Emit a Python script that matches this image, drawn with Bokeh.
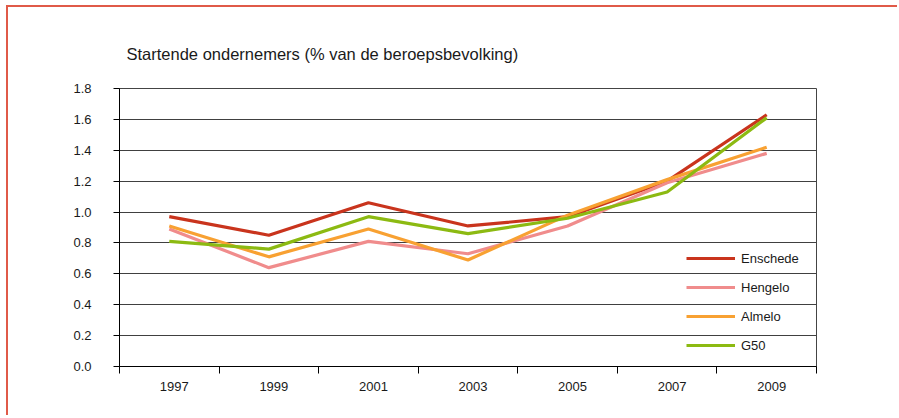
from bokeh.plotting import figure
from bokeh.models import FixedTicker, NumeralTickFormatter, Range1d, Legend, LegendItem, ColumnDataSource
from bokeh.embed import file_html
from bokeh.resources import INLINE

years = ["1997", "1999", "2001", "2003", "2005", "2007", "2009"]
enschede = [0.97, 0.85, 1.06, 0.91, 0.97, 1.20, 1.63]
hengelo = [0.89, 0.64, 0.81, 0.73, 0.91, 1.19, 1.38]
almelo = [0.91, 0.71, 0.89, 0.69, 0.98, 1.21, 1.42]
g50 = [0.81, 0.76, 0.97, 0.86, 0.96, 1.13, 1.61]
y_ticks = [0.0, 0.2, 0.4, 0.6, 0.8, 1.0, 1.2, 1.4, 1.6, 1.8]
title_text = "Startende ondernemers (% van de beroepsbevolking)"

series = [("Enschede", enschede, "#c9341d"),
          ("Hengelo", hengelo, "#f08c8c"),
          ("Almelo", almelo, "#f8a132"),
          ("G50", g50, "#8cba12")]

FONT = "Liberation Sans"
W, H = 891, 410

p = figure(width=W, height=H, output_backend="svg", toolbar_location=None,
           x_range=Range1d(0, len(years)), y_range=Range1d(0, 1.8),
           min_border_left=111, min_border_right=W - 111 - 697,
           min_border_top=81, min_border_bottom=H - 81 - 278,
           title=title_text)
p.styles = {"border-left": "2px solid #e05a48", "border-top": "2px solid #e05a48",
            "margin-left": "6px", "margin-top": "5px"}

p.title.text_font = FONT
p.title.text_font_size = "16.5px"
p.title.text_font_style = "normal"
p.title.text_color = "#1a1a1a"
p.title.align = "left"
p.title.offset = 7
p.title.standoff = 51

p.outline_line_color = "#444444"
p.outline_line_width = 1
p.background_fill_color = "white"
p.border_fill_color = "white"

xs = [i + 0.5 for i in range(len(years))]
items = []
for name, vals, col in series:
    src = ColumnDataSource(dict(x=xs, y=vals))
    r = p.line("x", "y", source=src, line_color=col, line_width=3.2)
    items.append(LegendItem(label=name, renderers=[r]))

# x axis
p.xaxis.ticker = FixedTicker(ticks=[i + 0.55 for i in range(len(years))],
                             minor_ticks=list(range(len(years) + 1)))
p.xaxis.major_label_overrides = {i + 0.55: y for i, y in enumerate(years)}
p.xaxis.major_tick_out = 0
p.xaxis.major_tick_in = 0
p.xaxis.minor_tick_out = 7
p.xaxis.minor_tick_in = 0
p.xaxis.minor_tick_line_color = "black"
p.xaxis.axis_line_color = "black"
p.xaxis.major_label_standoff = 8
p.xaxis.major_label_text_font = FONT
p.xaxis.major_label_text_font_size = "13px"
p.xaxis.major_label_text_color = "#1a1a1a"
p.xgrid.visible = False

# y axis
p.yaxis.ticker = FixedTicker(ticks=y_ticks, minor_ticks=[])
p.yaxis.formatter = NumeralTickFormatter(format="0.0")
p.yaxis.major_tick_out = 6
p.yaxis.major_tick_in = 0
p.yaxis.minor_tick_out = 0
p.yaxis.minor_tick_in = 0
p.yaxis.axis_line_color = "black"
p.yaxis.major_tick_line_color = "black"
p.yaxis.major_label_standoff = 22
p.yaxis.major_label_text_font = FONT
p.yaxis.major_label_text_font_size = "13px"
p.yaxis.major_label_text_color = "#1a1a1a"
p.ygrid.ticker = FixedTicker(ticks=y_ticks)
p.ygrid.grid_line_color = "#404040"
p.ygrid.grid_line_width = 1

legend = Legend(items=items, location=(567, 11))
legend.glyph_width = 49
legend.glyph_height = 20
legend.label_height = 20
legend.spacing = 9
legend.padding = 0
legend.margin = 0
legend.label_standoff = 6
legend.label_text_font = FONT
legend.label_text_font_size = "13px"
legend.label_text_color = "#1a1a1a"
legend.background_fill_alpha = 0
legend.border_line_alpha = 0
p.add_layout(legend, "center")

open("out.html", "w").write(file_html(p, INLINE))
